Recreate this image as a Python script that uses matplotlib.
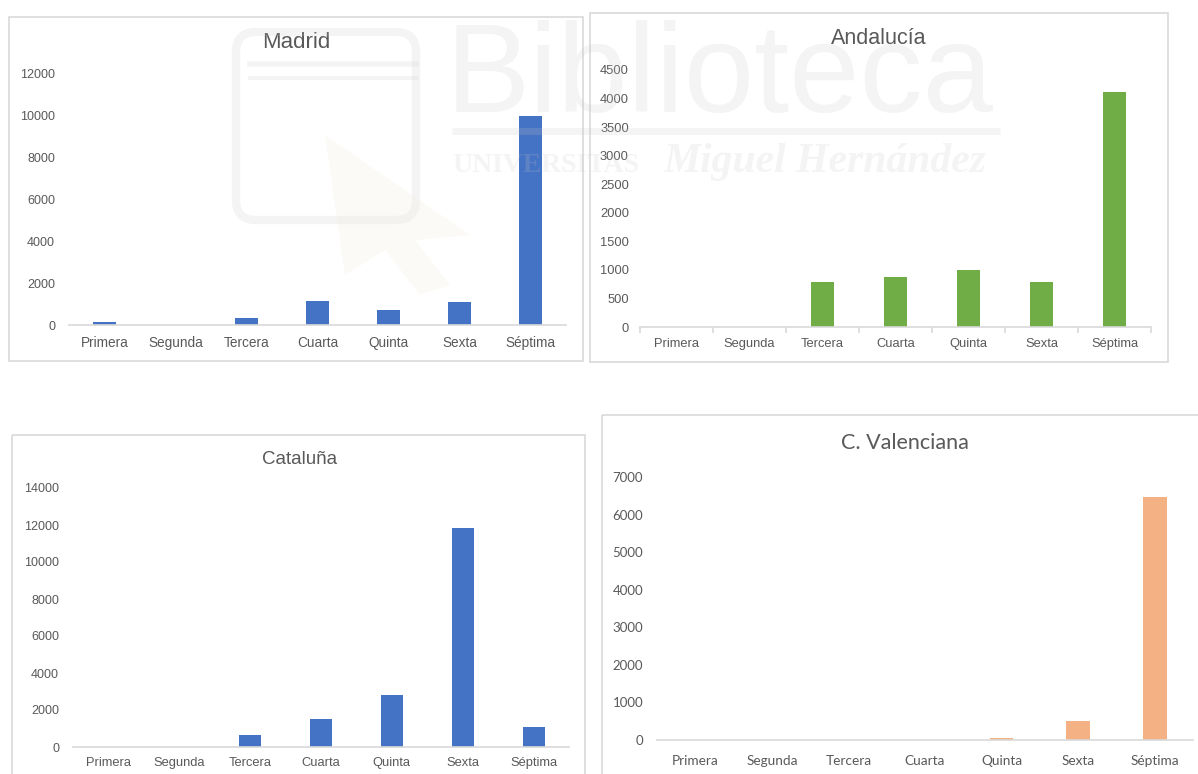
import matplotlib
matplotlib.use("Agg")
import matplotlib.pyplot as plt
from matplotlib.patches import Rectangle, FancyBboxPatch, Polygon
import numpy as np

# ---- data -------------------------------------------------------------
categorias = ["Primera", "Segunda", "Tercera", "Cuarta", "Quinta", "Sexta", "Séptima"]

madrid = [145, 0, 335, 1130, 715, 1080, 9940]
andalucia = [0, 0, 780, 880, 1005, 780, 4110]
cataluna = [0, 0, 630, 1510, 2830, 11820, 1090]
valenciana = [0, 0, 0, 0, 45, 510, 6470]

titulos = ["Madrid", "Andalucía", "Cataluña", "C. Valenciana"]
y_max = [12000, 4500, 14000, 7000]
y_paso = [2000, 500, 2000, 1000]
colores = ["#4472C4", "#70AD47", "#4472C4", "#F4B183"]

# ---- figure -----------------------------------------------------------
W, H = 1198, 774
fig = plt.figure(figsize=(W / 100, H / 100), dpi=100)
fig.patch.set_facecolor("white")

TXT = "#595959"
EJE = "#d9d9d9"


def px_rect(x0, y0, x1, y1):
    """Figure-fraction rectangle from pixel corners (top-left origin)."""
    return [x0 / W, 1 - y1 / H, (x1 - x0) / W, (y1 - y0) / H]


# background layer with chart-area frames
bg = fig.add_axes([0, 0, 1, 1], zorder=0)
bg.set_xlim(0, W)
bg.set_ylim(H, 0)
bg.axis("off")
marcos = [(9, 17, 583, 361), (590, 13, 1168, 362),
          (12, 435, 585, 790), (602, 415, 1215, 790)]
for (x0, y0, x1, y1) in marcos:
    bg.add_patch(Rectangle((x0, y0), x1 - x0, y1 - y0, fill=False,
                           ec=EJE, lw=1.2))

# plot areas (pixels): left, top, right, bottom
areas = [(69, 73, 566, 325), (640, 70, 1151, 327),
         (73, 488, 569, 747), (657, 477, 1193, 740)]
# title centres (pixels)
pos_titulo = [(296, 42), (879, 38), (300, 460), (905, 443)]
tam_titulo = [16, 15.5, 13.5, 15.5]
fuentes = ["Liberation Sans", "Liberation Sans", "Liberation Sans", "Lato"]
tam_y = [9, 9.3, 9, 9.5]
tam_x = [9.8, 9.3, 9.3, 9.8]
pad_y = [10, 8, 10, 10]
pad_x = [8, 8, 7, 11]
con_marcas = [False, True, False, False]

series = [madrid, andalucia, cataluna, valenciana]
x = np.arange(len(categorias))

for i, valores in enumerate(series):
    x0, y0, x1, y1 = areas[i]
    ax = fig.add_axes(px_rect(x0, y0, x1, y1), zorder=1)
    ax.patch.set_alpha(0)
    ax.bar(x, valores, width=0.31, color=colores[i], zorder=2)
    ax.set_xlim(-0.5, len(categorias) - 0.5)
    ax.set_ylim(0, y_max[i])
    ax.set_yticks(np.arange(0, y_max[i] + 1, y_paso[i]))
    ax.set_xticks(x)
    ax.set_xticklabels(categorias)
    for s in ("top", "right", "left"):
        ax.spines[s].set_visible(False)
    ax.spines["bottom"].set_color(EJE)
    ax.spines["bottom"].set_linewidth(1.2)
    ax.tick_params(axis="y", length=0, pad=pad_y[i], labelsize=tam_y[i],
                   labelcolor=TXT)
    ax.tick_params(axis="x", length=0, pad=pad_x[i], labelsize=tam_x[i],
                   labelcolor=TXT)
    if con_marcas[i]:
        ax.set_xticks(np.arange(-0.5, len(categorias)), minor=True)
        ax.tick_params(axis="x", which="minor", length=4, color=EJE,
                       width=1.2, direction="out")
    for lab in ax.get_xticklabels() + ax.get_yticklabels():
        lab.set_fontfamily(fuentes[i])
    tx, ty = pos_titulo[i]
    fig.text(tx / W, 1 - ty / H, titulos[i], ha="center", va="center",
             fontsize=tam_titulo[i], color=TXT, family=fuentes[i])

# faint library watermark laid over the charts
wm = fig.add_axes([0, 0, 1, 1], zorder=5)
wm.set_xlim(0, W)
wm.set_ylim(H, 0)
wm.axis("off")
wm.patch.set_alpha(0)
GRIS = "#c8c8c8"
A = 0.2
wm.text(446, 112, "Biblioteca", fontsize=91, color=GRIS, alpha=A,
        family="Liberation Sans", ha="left", va="baseline")
wm.plot([452, 1000], [131, 131], color=GRIS, alpha=A, lw=5,
        solid_capstyle="butt")
wm.text(452, 172, "UNIVERSITAS", fontsize=20, color=GRIS, alpha=A,
        family="Liberation Serif", weight="bold", ha="left", va="baseline")
wm.text(664, 172, "Miguel Hernández", fontsize=30, color=GRIS, alpha=A,
        family="Liberation Serif", style="italic", weight="bold",
        ha="left", va="baseline")
wm.add_patch(FancyBboxPatch((236, 32), 180, 188,
                            boxstyle="round,pad=0,rounding_size=20",
                            fill=False, ec=GRIS, lw=6, alpha=A))
wm.plot([250, 416], [64, 64], color=GRIS, alpha=A, lw=4)
wm.plot([250, 416], [78, 78], color=GRIS, alpha=A, lw=3)
wm.add_patch(Polygon([(325, 135), (470, 235), (415, 240), (450, 285),
                      (420, 295), (385, 250), (345, 275)],
                     closed=True, fc="#f3efe2", ec="none", alpha=0.3))

fig.savefig("out.png", dpi=100, facecolor="white")
